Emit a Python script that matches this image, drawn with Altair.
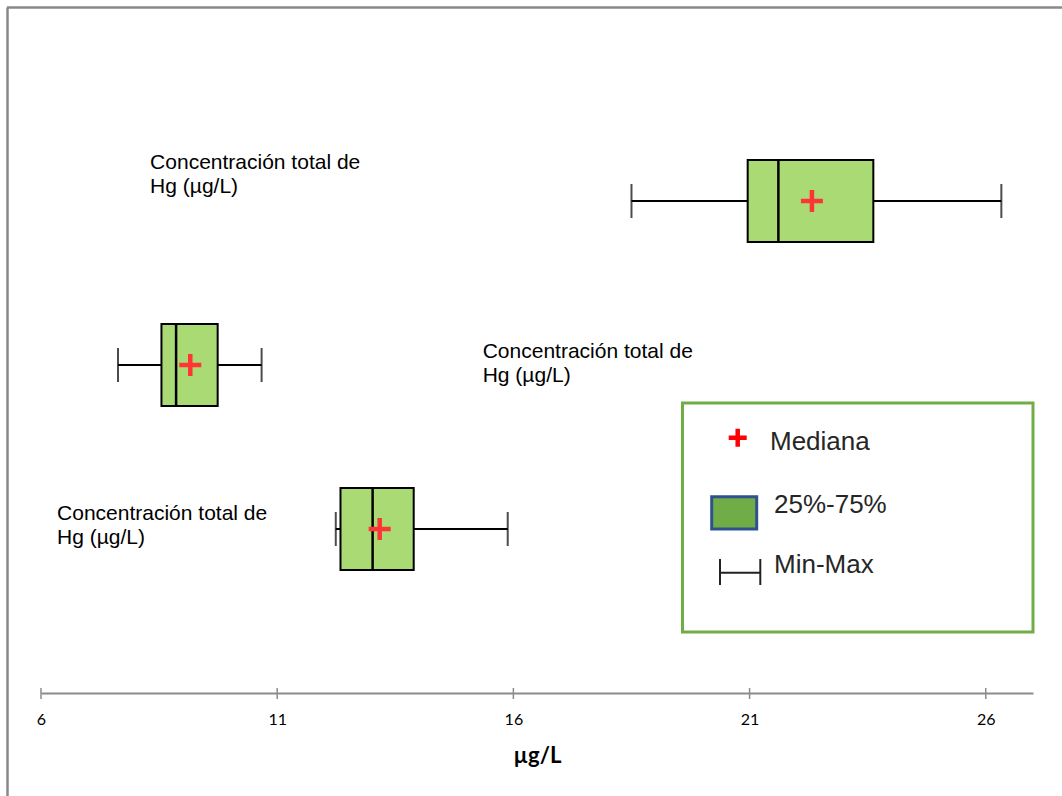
import altair as alt
import pandas as pd

# Concentración total de Hg (µg/L): tres grupos, de arriba abajo
filas = [3, 2, 1]
minimo = [18.50, 7.63, 12.24]
p25 = [20.96, 8.55, 12.34]
linea_interior = [21.61, 8.86, 13.02]
p75 = [23.62, 9.74, 13.89]
maximo = [26.33, 10.67, 15.88]
mediana = [22.32, 9.16, 13.17]

etiqueta = "Concentración total de\nHg (µg/L)"
ticks_x = [6, 11, 16, 21, 26]

W, H = 992, 656
MEDIO_ALTO = 0.25  # media altura de la caja, en unidades de fila
PLUS = "M-1,0L1,0M0,-1L0,1"

cajas = pd.DataFrame({
    "fila": filas, "minimo": minimo, "p25": p25, "linea": linea_interior,
    "p75": p75, "maximo": maximo, "mediana": mediana,
})

x_scale = alt.Scale(domain=[6, 27], nice=False, zero=False)
y_scale = alt.Scale(domain=[0, 4], nice=False, zero=False)
x_axis = alt.Axis(values=ticks_x, title="µg/L", grid=False, ticks=False, tickSize=0,
                  labelPadding=18, titlePadding=18, format="d", labelFlush=False)


def X(campo):
    return alt.X(f"{campo}:Q", scale=x_scale, axis=x_axis)


def Y(campo):
    return alt.Y(f"{campo}:Q", scale=y_scale, axis=None)


base = alt.Chart(cajas).transform_calculate(
    y_lo=f"datum.fila - {MEDIO_ALTO}", y_hi=f"datum.fila + {MEDIO_ALTO}"
)

bigotes = base.mark_rule(color="black", strokeWidth=2).encode(
    x=X("minimo"), x2="maximo:Q", y=Y("fila"))
tope_min = base.mark_tick(orient="vertical", size=34, thickness=2, color="black").encode(
    x=X("minimo"), y=Y("fila"))
tope_max = base.mark_tick(orient="vertical", size=34, thickness=2, color="black").encode(
    x=X("maximo"), y=Y("fila"))
caja = base.mark_rect(fill="#A9DA74", stroke="black", strokeWidth=2).encode(
    x=X("p25"), x2="p75:Q", y=Y("y_lo"), y2="y_hi:Q")
linea = base.mark_rule(color="black", strokeWidth=2.5).encode(
    x=X("linea"), y=Y("y_lo"), y2="y_hi:Q")
cruz = base.mark_point(shape=PLUS, size=484, strokeWidth=4.5, color="#FF3535",
                       filled=False, opacity=1).encode(x=X("mediana"), y=Y("fila"))

# rótulos de cada grupo
rotulos_df = pd.DataFrame({
    "x": [8.31, 15.35, 6.34],
    "y": [3.195, 2.043, 1.055],
    "t": [etiqueta, etiqueta, etiqueta],
})
rotulos = alt.Chart(rotulos_df).mark_text(
    align="left", baseline="alphabetic", font="Liberation Sans", fontSize=21,
    lineBreak="\n", lineHeight=24, color="black",
).encode(x=X("x"), y=Y("y"), text="t:N")

# marcas de graduación que cruzan el eje
marcas_df = pd.DataFrame({"v": ticks_x})
marcas = alt.Chart(marcas_df).mark_rule(color="#8c8c8c", strokeWidth=1.5).encode(
    x=X("v"), y=alt.value(H - 5), y2=alt.value(H + 6))

# leyenda
uno = pd.DataFrame({"k": [0]})
ley_marco = alt.Chart(uno).mark_rect(fill="white", stroke="#70AD47", strokeWidth=3).encode(
    x=alt.value(641.5), x2=alt.value(W), y=alt.value(366), y2=alt.value(595))
ley_cruz = alt.Chart(uno).mark_point(shape=PLUS, size=324, strokeWidth=4.5, color="#FF0000",
                                     filled=False, opacity=1).encode(
    x=alt.value(696.7), y=alt.value(400.7))
ley_caja = alt.Chart(uno).mark_rect(fill="#70AD47", stroke="#2F528F", strokeWidth=3).encode(
    x=alt.value(670.7), x2=alt.value(715.7), y=alt.value(459.7), y2=alt.value(492))
ley_h = alt.Chart(uno).mark_rule(color="#222222", strokeWidth=2).encode(
    x=alt.value(679), x2=alt.value(719.3), y=alt.value(535.7))
ley_t1 = alt.Chart(uno).mark_rule(color="#222222", strokeWidth=2).encode(
    x=alt.value(679), y=alt.value(522), y2=alt.value(548))
ley_t2 = alt.Chart(uno).mark_rule(color="#222222", strokeWidth=2).encode(
    x=alt.value(719.3), y=alt.value(522), y2=alt.value(548))


def ley_texto(txt, x, y):
    return alt.Chart(uno).mark_text(
        align="left", baseline="alphabetic", font="Liberation Sans", fontSize=26,
        color="#262626", text=txt,
    ).encode(x=alt.value(x), y=alt.value(y))


ley_textos = [ley_texto("Mediana", 729, 413), ley_texto("25%-75%", 733, 476),
              ley_texto("Min-Max", 733, 536)]

# marco gris del gráfico
marco_sup = alt.Chart(uno).mark_rule(color="#888888", strokeWidth=2.5).encode(
    x=alt.value(-34), x2=alt.value(1021), y=alt.value(-29.5))
marco_izq = alt.Chart(uno).mark_rule(color="#888888", strokeWidth=2.5).encode(
    x=alt.value(-33.5), y=alt.value(-29.5), y2=alt.value(760))

chart = alt.layer(
    marco_sup, marco_izq, marcas, bigotes, tope_min, tope_max, caja, linea, cruz, rotulos,
    ley_marco, ley_cruz, ley_caja, ley_h, ley_t1, ley_t2, *ley_textos,
).properties(
    width=W, height=H,
    autosize=alt.AutoSizeParams(type="none"),
    padding={"left": 41, "top": 37, "right": 29, "bottom": 103},
).configure_view(stroke=None).configure_axis(
    domainColor="#8c8c8c", domainWidth=2,
    labelFont="Lato", labelFontSize=16, labelColor="black",
    titleFont="Lato", titleFontSize=22, titleFontWeight="bold", titleColor="black",
)

chart.save("out.html", embed_options={"renderer": "svg", "actions": False})
